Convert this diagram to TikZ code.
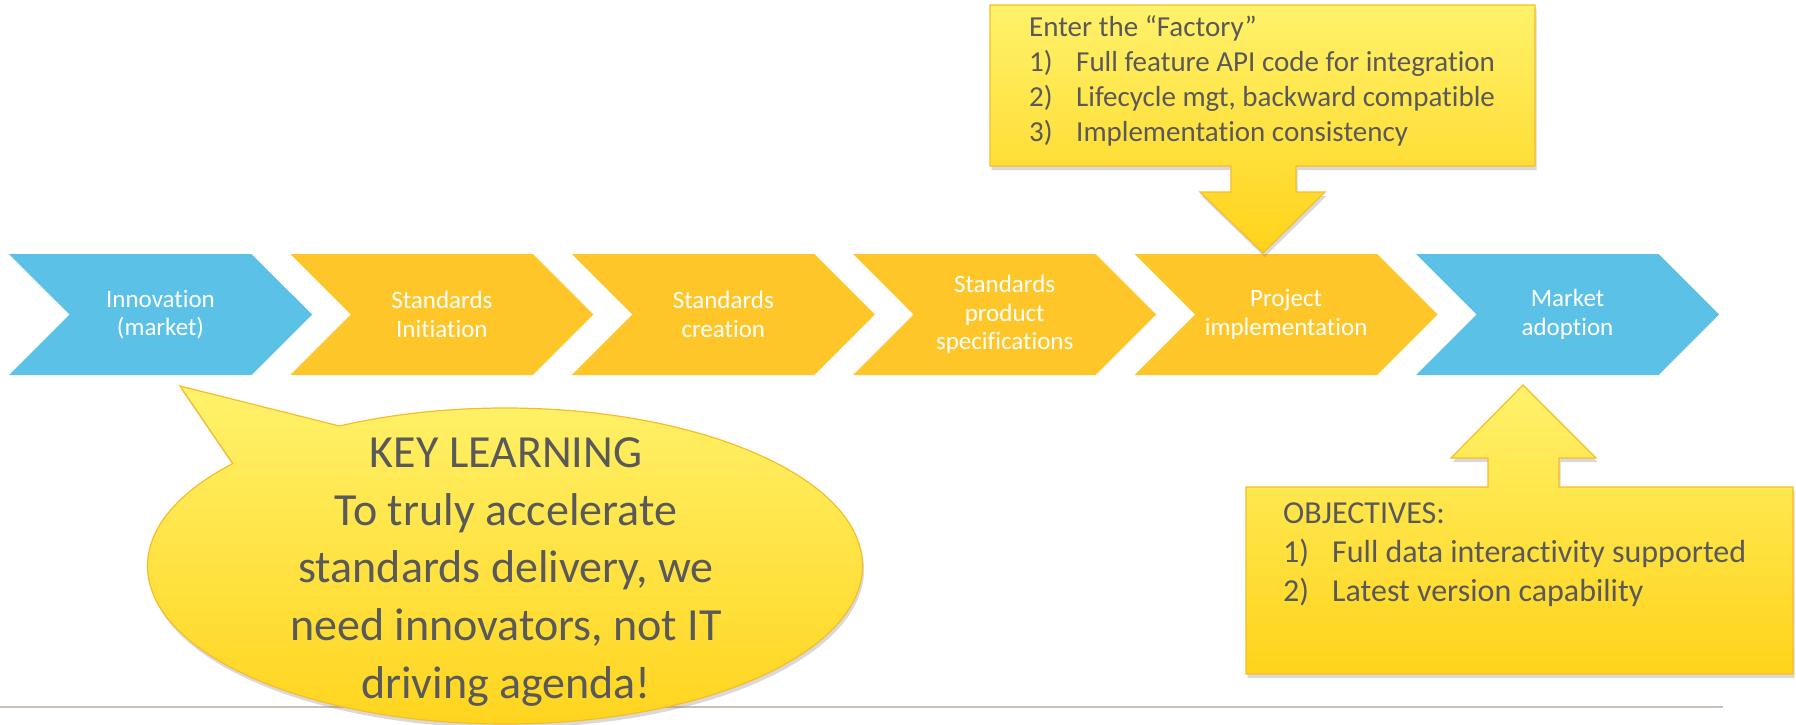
\documentclass[tikz,border=0pt]{standalone}
\usepackage{fontspec}
\setmainfont{Carlito}[Ligatures=NoCommon]
\usetikzlibrary{shapes.symbols,shapes.callouts,shadows}

\definecolor{chevblue}{HTML}{5BC1E7}
\definecolor{chevgold}{HTML}{FFC629}
\definecolor{notetop}{HTML}{FFF26B}
\definecolor{notebot}{HTML}{FFD31A}
\definecolor{noteedge}{HTML}{F7BD26}
\definecolor{notetext}{HTML}{595959}
\definecolor{rulegray}{HTML}{C9C1B9}

\tikzset{
  chev/.style={signal, signal from=west, signal to=east, signal pointer angle=90,
    minimum width=303pt, minimum height=121pt, inner sep=0pt, text=white,
    align=center, font=\fontsize{25}{28.5}\selectfont},
  note/.style={draw=noteedge, line width=1.2pt, top color=notetop, bottom color=notebot,
    drop shadow={opacity=0.3, shadow xshift=1.5pt, shadow yshift=-4pt}},
  notetxt/.style={text=notetext, inner sep=0pt, align=left}
}

\begin{document}
\begin{tikzpicture}[x=1pt,y=-1pt]
	\useasboundingbox (0,0) rectangle (1796,725);
	
	% process chevrons
	\foreach \i/\col/\txt in {1/chevblue/Innovation\\(market),
		2/chevgold/Standards\\Initiation,
		3/chevgold/Standards\\creation,
		4/chevgold/Standards\\product\\specifications,
		5/chevgold/Project\\implementation,
		6/chevblue/Market\\adoption}
		\node[chev, fill=\col] (c\i) at ({160.5+(\i-1)*281.4},314.5) {\txt};
	
	\draw[rulegray, line width=2pt] (0,707) -- (1723,707);
	
	% factory note, arrow down to c5
	\draw[note] (990,5) -- (1535,5) -- (1535,166) -- (1296,166) -- (1296,192)
		-- (1325,192) -- (1263,253) -- (1200,192) -- (1231,192) -- (1231,166)
		-- (990,166) -- cycle;
	\node[notetxt, anchor=north west, font=\fontsize{29}{35}\selectfont] (factory) at (1029,15)
		{Enter the “Factory”\\
		\makebox[47pt][l]{1)}Full feature API code for integration\\
		\makebox[47pt][l]{2)}Lifecycle mgt, backward compatible\\
		\makebox[47pt][l]{3)}Implementation consistency};
	
	% key learning bubble
	\node[ellipse callout, note, minimum width=715pt, minimum height=316pt, inner sep=0pt,
		callout absolute pointer={(180,386)}, callout pointer arc=22] (bubble) at (505,566) {};
	\node[text=notetext, align=center, font=\fontsize{46}{57.75}\selectfont] (learning) at (506,572)
		{KEY LEARNING\\To truly accelerate\\standards delivery, we\\need innovators, not IT\\driving agenda!};
	
	% objectives note, arrow up to c6
	\draw[note] (1246,487) -- (1488,487) -- (1488,458) -- (1451,458) -- (1523,385)
		-- (1596,458) -- (1559,458) -- (1559,487) -- (1793,487) -- (1793,674)
		-- (1246,674) -- cycle;
	\node[notetxt, anchor=north west, font=\fontsize{32}{39}\selectfont] (objectives) at (1283,503)
		{OBJECTIVES:\\
		\makebox[49pt][l]{1)}Full data interactivity supported\\
		\makebox[49pt][l]{2)}Latest version capability};
\end{tikzpicture}
\end{document}
